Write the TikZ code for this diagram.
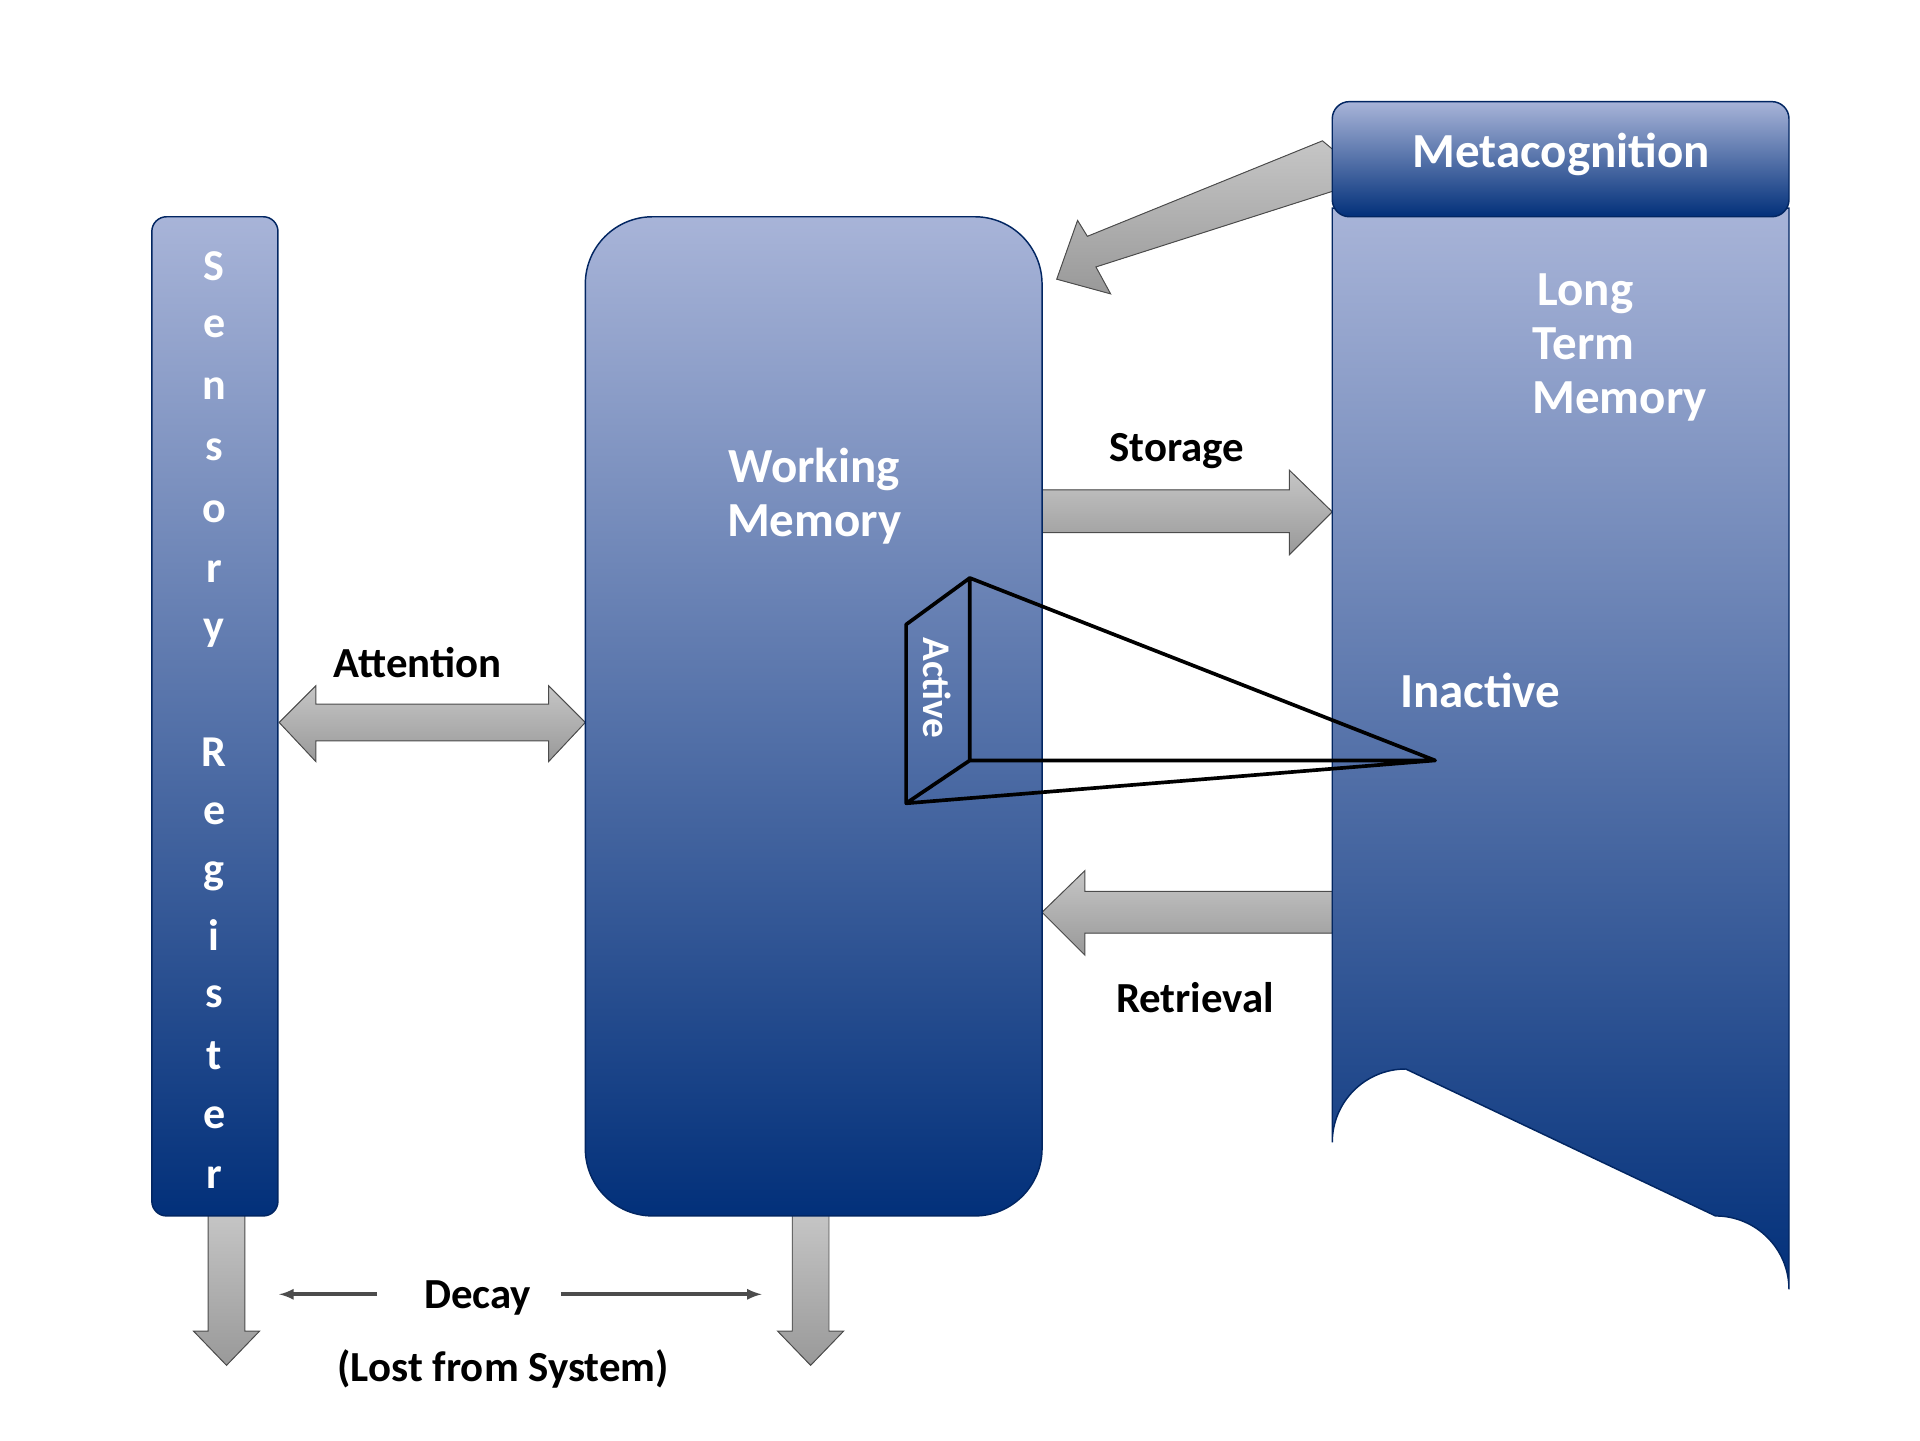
\documentclass[tikz,border=0pt]{standalone}
\usepackage{fontspec}
\setmainfont{Carlito}
\begin{document}
\begin{tikzpicture}[x=1pt,y=-1pt,
  box/.style={draw=blue!40!black,line width=1.2pt,top color=blue!35!gray!40!white,bottom color=blue!55!black!90},
  barrow/.style={draw=gray!60!black,line width=0.8pt,top color=gray!45,bottom color=gray!80},
  wt/.style={text=white,font=\bfseries\fontsize{40}{48}\selectfont},
  bt/.style={text=black,font=\bfseries\fontsize{35}{42}\selectfont},
  st/.style={text=white,font=\bfseries\fontsize{36}{40}\selectfont}]
\useasboundingbox (0,0) rectangle (1568,1176);
\definecolor{topc}{HTML}{A8B4D8}\definecolor{botc}{HTML}{02307A}
\tikzset{box/.style={draw=botc!80!black,line width=1.2pt,top color=topc,bottom color=botc}}
% arrows first
\filldraw[barrow] (228,590)--(258,560)--(258,575)--(448,575)--(448,560)--(478,590)--(448,622)--(448,605)--(258,605)--(258,622)--cycle;
\filldraw[barrow] (851,400)--(1053,400)--(1053,384)--(1088,418)--(1053,453)--(1053,435)--(851,435)--cycle;
\filldraw[barrow] (1088,728)--(886,728)--(886,711)--(851,745)--(886,780)--(886,762)--(1088,762)--cycle;
\filldraw[barrow] (1092,125)--(1092,155)--(895,218)--(907,240)--(863,228)--(880,180)--(888,193)--(1080,115)--cycle;
\filldraw[barrow] (170,990)--(200,990)--(200,1087)--(212,1087)--(185,1115)--(158,1087)--(170,1087)--cycle;
\filldraw[barrow] (647,990)--(677,990)--(677,1087)--(689,1087)--(662,1115)--(635,1087)--(647,1087)--cycle;
% boxes
\node[box,rounded corners=12pt,minimum width=103,minimum height=816,inner sep=0] (sr) at (175.5,585) {};
\node[box,rounded corners=55pt,minimum width=373,minimum height=816,inner sep=0] (wm) at (664.5,585) {};
\path[box] (1088,170)--(1088,933) arc[start angle=180,end angle=270,radius=60] -- (1401,993) arc[start angle=270,end angle=360,radius=60] -- (1461,170)--cycle;
\node[box,rounded corners=14pt,minimum width=373,minimum height=94,inner sep=0] (mc) at (1274.5,130) {};
\node[wt] at (1275,126) {Metacognition};
% texts
\foreach \c/\y in {S/217,e/267,n/317,s/367,o/418,r/467,y/517,R/614,e/665,g/716,i/764,s/814,t/862,e/913,r/962}
  \node[st] at (175,\y) {\c};
\node[wt,align=center] (wmt) at (665,405) {Working\\[-4pt]Memory};
\node[wt,align=left,anchor=west] (ltm) at (1248,284) {\hspace*{4pt}Long\\[-4pt]Term\\[-4pt]Memory};
\node[wt,anchor=west] (ina) at (1140,564) {Inactive};
\node[bt] (att) at (341,541) {Attention};
\node[bt] (sto) at (961,368) {Storage};
\node[bt] (ret) at (976,815) {Retrieval};
\node[bt] (dec) at (390,1060) {Decay};
\node[bt] (lost) at (411,1118) {(Lost from System)};
\coordinate (dl) at (228,1057); \coordinate (dr) at (622,1057);
\draw[gray!60!black,line width=3pt,-latex] (308,1057)--(dl);
\draw[gray!60!black,line width=3pt,-latex] (458,1057)--(dr);
% prism
\coordinate (a) at (792,472); \coordinate (b) at (740,510); \coordinate (c) at (740,656);
\coordinate (d) at (792,621); \coordinate (e) at (1172,621);
\draw[line width=3pt,line join=round] (a)--(b)--(c)--(d)--cycle (a)--(e)--(c) (d)--(e);
\node[text=white,font=\bfseries\fontsize{32}{36}\selectfont,rotate=-90] (act) at (765,562) {Active};
\end{tikzpicture}
\end{document}
